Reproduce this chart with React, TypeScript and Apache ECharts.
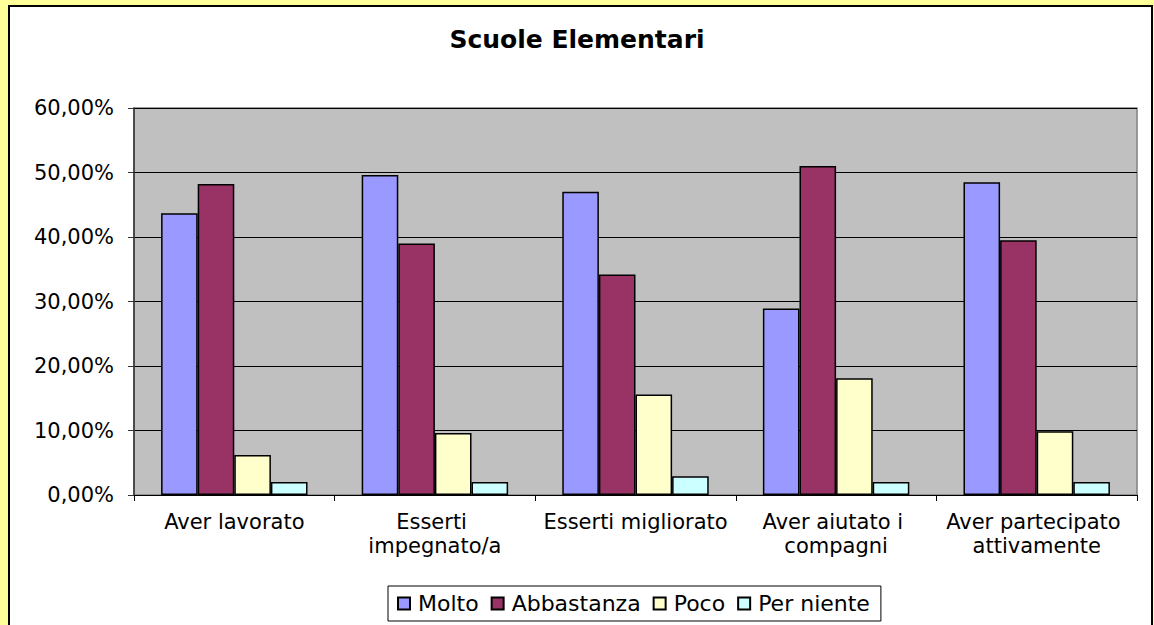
import React, { useEffect, useRef } from "react";
import * as echarts from "echarts";

const categories = [
  "Aver lavorato",
  "Esserti impegnato/a",
  "Esserti migliorato",
  "Aver aiutato i compagni",
  "Aver partecipato attivamente",
];
const seriesNames = ["Molto", "Abbastanza", "Poco", "Per niente"];
const molto = [0.437, 0.496, 0.47, 0.289, 0.485];
const abbastanza = [0.482, 0.39, 0.342, 0.51, 0.395];
const poco = [0.062, 0.096, 0.156, 0.181, 0.099];
const perNiente = [0.02, 0.02, 0.029, 0.02, 0.02];
const colors = ["#9999FF", "#993366", "#FFFFCC", "#CCFFFF"];
const yTicks = { min: 0, max: 0.6, interval: 0.1 };

const FONT = "DejaVu Sans";

export default function App() {
  const ref = useRef<HTMLDivElement>(null);
  useEffect(() => {
    const chart = echarts.init(ref.current!, null, { renderer: "svg" });
    const values = [molto, abbastanza, poco, perNiente];
    chart.setOption({
      animation: false,
      title: {
        text: "Scuole Elementari",
        left: "center",
        top: 22,
        textStyle: { fontFamily: FONT, fontSize: 25, fontWeight: "bold", color: "#000" },
      },
      legend: {
        left: 388,
        top: 586,
        padding: [6, 11, 6, 9],
        borderColor: "#000",
        borderWidth: 1,
        itemWidth: 12,
        itemHeight: 12,
        itemGap: 12,
        icon: "rect",
        textStyle: {
          fontFamily: FONT,
          fontSize: 22,
          lineHeight: 23,
          color: "#000",
          padding: [0, 0, 0, 3],
        },
        data: seriesNames,
      },
      grid: {
        left: 134,
        top: 108,
        right: 17,
        bottom: 130,
        show: true,
        backgroundColor: "#C0C0C0",
        borderColor: "#808080",
        borderWidth: 1.5,
      },
      xAxis: {
        type: "category",
        data: categories,
        axisLine: { lineStyle: { color: "#000", width: 1 } },
        axisTick: { show: true, length: 6, lineStyle: { color: "#000" } },
        axisLabel: {
          fontFamily: FONT,
          fontSize: 21,
          color: "#000",
          margin: 15,
          width: 188,
          overflow: "break",
          lineHeight: 24,
          interval: 0,
        },
      },
      yAxis: {
        type: "value",
        min: yTicks.min,
        max: yTicks.max,
        interval: yTicks.interval,
        axisLine: { show: true, lineStyle: { color: "#333", width: 1.5 } },
        axisTick: { show: true, length: 6, lineStyle: { color: "#333" } },
        splitLine: { show: true, lineStyle: { color: "#000", width: 1 } },
        axisLabel: {
          fontFamily: FONT,
          fontSize: 21,
          color: "#000",
          margin: 20,
          formatter: (v: number) => (v * 100).toFixed(2).replace(".", ",") + "%",
        },
      },
      series: seriesNames.map((name, i) => ({
        name,
        type: "bar",
        data: values[i],
        barGap: "0%",
        barCategoryGap: "27%",
        itemStyle: { color: colors[i], borderColor: "#000", borderWidth: 1.5 },
      })),
    });
    return () => chart.dispose();
  }, []);
  return (
    <div
      style={{
        position: "fixed",
        left: 0,
        top: 0,
        width: 1154,
        height: 625,
        background: "#FFFF99",
        overflow: "hidden",
      }}
    >
      <div
        style={{
          position: "absolute",
          left: 8,
          top: 5,
          width: 1145,
          height: 700,
          background: "#fff",
          border: "2px solid #000",
          boxSizing: "border-box",
        }}
      />
      <div ref={ref} style={{ position: "absolute", left: 0, top: 0, width: 1154, height: 625 }} />
    </div>
  );
}
